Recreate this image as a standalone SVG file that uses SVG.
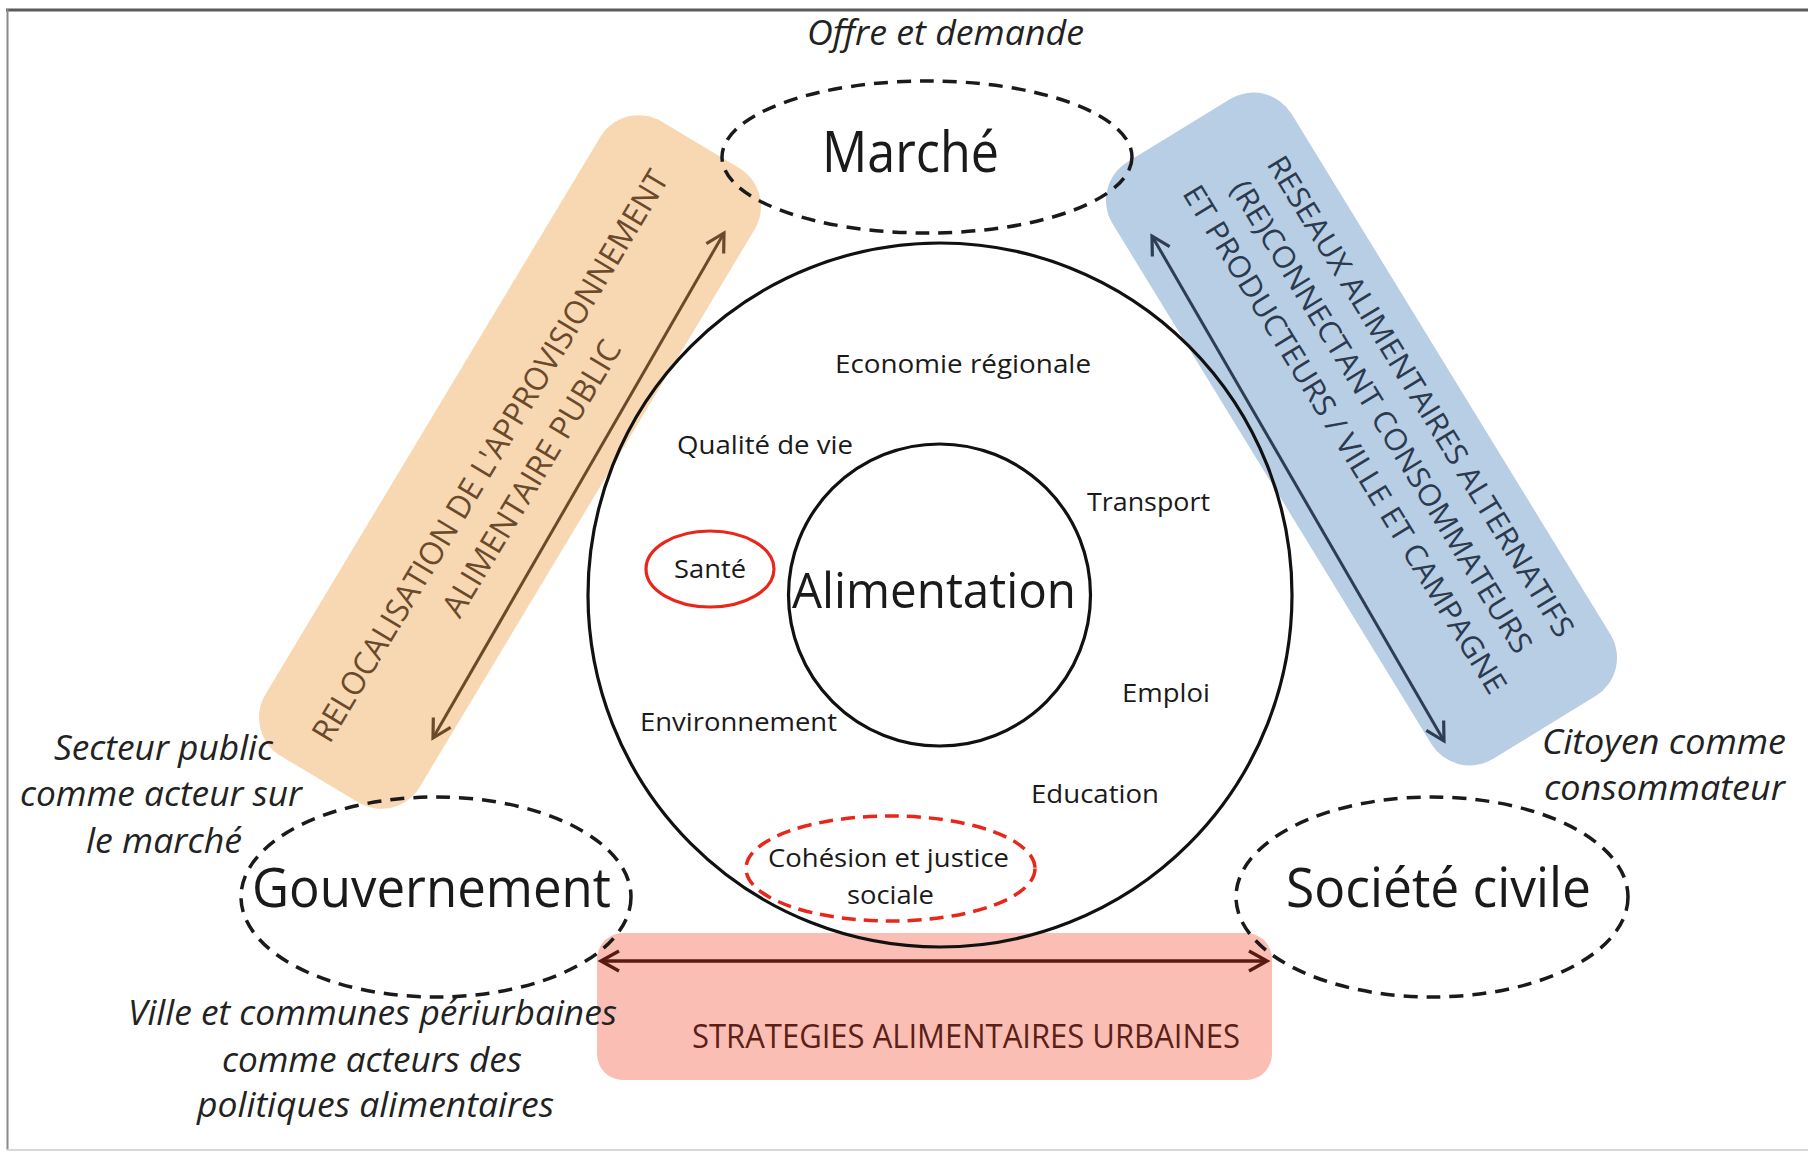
<svg xmlns="http://www.w3.org/2000/svg" width="1808" height="1152" viewBox="0 0 1808 1152">
<style>
  text { font-family: "Open Sans", "Noto Sans", "Liberation Sans", sans-serif; fill: #1a1a1a; }
  .it { font-style: italic; font-size: 34px; fill: #222; }
  .inner { font-size: 26px; }
  .big { font-size: 54px; }
  .dash { fill: none; stroke: #1a1a1a; stroke-width: 3.5; stroke-dasharray: 14 9; }
  .solid { fill: none; stroke: #111; stroke-width: 3.2; }
  .band-o { fill: #F8D8B3; }
  .band-b { fill: #B8CEE5; }
  .band-p { fill: #FABEB5; }
  .t-o { font-size: 32px; fill: #6B4A2B; }
  .t-b { font-size: 30px; fill: #2C3A4F; }
  .t-p { font-size: 32px; fill: #5C1F18; }
</style>
<defs>
  <marker id="ah-o" markerUnits="userSpaceOnUse" markerWidth="26" markerHeight="26" viewBox="0 0 26 26" refX="21" refY="13" orient="auto-start-reverse">
    <path d="M3,3 L21,13 L3,23" fill="none" stroke="#6B4A2B" stroke-width="3.2"/>
  </marker>
  <marker id="ah-b" markerUnits="userSpaceOnUse" markerWidth="26" markerHeight="26" viewBox="0 0 26 26" refX="21" refY="13" orient="auto-start-reverse">
    <path d="M3,3 L21,13 L3,23" fill="none" stroke="#2D3D52" stroke-width="3.2"/>
  </marker>
  <marker id="ah-p" markerUnits="userSpaceOnUse" markerWidth="26" markerHeight="26" viewBox="0 0 26 26" refX="21" refY="13" orient="auto-start-reverse">
    <path d="M3,3 L21,13 L3,23" fill="none" stroke="#5A1A12" stroke-width="3.4"/>
  </marker>
</defs>

<rect x="0" y="0" width="1808" height="1152" fill="#fff"/>
<g id="frame">
  <line x1="6" y1="10" x2="1808" y2="10" stroke="#5a5a5a" stroke-width="3"/>
  <line x1="7.5" y1="9" x2="7.5" y2="1150" stroke="#8a8a8a" stroke-width="2"/>
  <line x1="7" y1="1150" x2="1808" y2="1150" stroke="#d8d8d8" stroke-width="2"/>
</g>

<g id="band-relocalisation" transform="translate(510,462) rotate(-59)">
  <rect x="-370" y="-90" width="740" height="180" rx="45" class="band-o"/>
  <text class="t-o" x="-5" y="-9" text-anchor="middle" textLength="660" lengthAdjust="spacingAndGlyphs">RELOCALISATION DE L'APPROVISIONNEMENT</text>
  <text class="t-o" x="-3" y="38" text-anchor="middle" textLength="316" lengthAdjust="spacingAndGlyphs">ALIMENTAIRE PUBLIC</text>
</g>

<g id="band-reseaux" transform="translate(1361.5,429) rotate(58.5)">
  <rect x="-350" y="-105" width="700" height="210" rx="45" class="band-b"/>
  <text class="t-b" x="3" y="-57" text-anchor="middle" textLength="558" lengthAdjust="spacingAndGlyphs">RESEAUX ALIMENTAIRES ALTERNATIFS</text>
  <text class="t-b" x="0" y="-13" text-anchor="middle" textLength="548" lengthAdjust="spacingAndGlyphs">(RE)CONNECTANT CONSOMMATEURS</text>
  <text class="t-b" x="0" y="30" text-anchor="middle" textLength="590" lengthAdjust="spacingAndGlyphs">ET PRODUCTEURS / VILLE ET CAMPAGNE</text>
</g>

<g id="band-strategies">
  <rect x="597" y="933" width="675" height="147" rx="26" class="band-p"/>
  <text class="t-p" x="966" y="1048" text-anchor="middle" textLength="548" lengthAdjust="spacingAndGlyphs">STRATEGIES ALIMENTAIRES URBAINES</text>
</g>

<g id="outer-circle">
  <circle cx="940" cy="595" r="352" class="solid"/>
  <text class="inner" x="963" y="373" text-anchor="middle" textLength="256" lengthAdjust="spacingAndGlyphs">Economie régionale</text>
  <text class="inner" x="765" y="454" text-anchor="middle" textLength="176" lengthAdjust="spacingAndGlyphs">Qualité de vie</text>
  <text class="inner" x="1148.5" y="511" text-anchor="middle" textLength="123" lengthAdjust="spacingAndGlyphs">Transport</text>
  <text class="inner" x="1166" y="702" text-anchor="middle" textLength="88" lengthAdjust="spacingAndGlyphs">Emploi</text>
  <text class="inner" x="738.5" y="731" text-anchor="middle" textLength="197" lengthAdjust="spacingAndGlyphs">Environnement</text>
  <text class="inner" x="1095" y="803" text-anchor="middle" textLength="128" lengthAdjust="spacingAndGlyphs">Education</text>
</g>

<g id="sante">
  <ellipse cx="710" cy="569" rx="64" ry="38" fill="none" stroke="#E8261A" stroke-width="3.2"/>
  <text class="inner" x="710" y="578" text-anchor="middle" textLength="72" lengthAdjust="spacingAndGlyphs">Santé</text>
</g>

<g id="cohesion">
  <ellipse cx="890.5" cy="868.5" rx="144.5" ry="52.5" fill="none" stroke="#E8261A" stroke-width="3.5" stroke-dasharray="14 8"/>
  <text class="inner" x="888.5" y="867" text-anchor="middle" textLength="241" lengthAdjust="spacingAndGlyphs">Cohésion et justice</text>
  <text class="inner" x="890.5" y="904" text-anchor="middle" textLength="87" lengthAdjust="spacingAndGlyphs">sociale</text>
</g>

<g id="alimentation">
  <circle cx="939.5" cy="595" r="151" class="solid"/>
  <text x="934" y="608" font-size="50" text-anchor="middle" textLength="284" lengthAdjust="spacingAndGlyphs">Alimentation</text>
</g>

<g id="marche">
  <ellipse cx="927" cy="157" rx="205" ry="76" class="dash"/>
  <text x="910.5" y="172" font-size="56" text-anchor="middle" textLength="177" lengthAdjust="spacingAndGlyphs">Marché</text>
  <text class="it" x="945.5" y="45" font-size="31" text-anchor="middle" textLength="277" lengthAdjust="spacingAndGlyphs">Offre et demande</text>
</g>

<g id="gouvernement">
  <ellipse cx="436" cy="897" rx="195" ry="100" class="dash"/>
  <text class="big" x="431.5" y="907" text-anchor="middle" textLength="359" lengthAdjust="spacingAndGlyphs">Gouvernement</text>
  <text class="it" x="163.5" y="760" text-anchor="middle" textLength="219" lengthAdjust="spacingAndGlyphs">Secteur public</text>
  <text class="it" x="161" y="806" text-anchor="middle" textLength="282" lengthAdjust="spacingAndGlyphs">comme acteur sur</text>
  <text class="it" x="164" y="853" text-anchor="middle" textLength="156" lengthAdjust="spacingAndGlyphs">le marché</text>
  <text class="it" x="372.5" y="1025" text-anchor="middle" textLength="489" lengthAdjust="spacingAndGlyphs">Ville et communes périurbaines</text>
  <text class="it" x="372" y="1072" text-anchor="middle" textLength="300" lengthAdjust="spacingAndGlyphs">comme acteurs des</text>
  <text class="it" x="375.5" y="1117" text-anchor="middle" textLength="357" lengthAdjust="spacingAndGlyphs">politiques alimentaires</text>
</g>

<g id="societe-civile">
  <ellipse cx="1432" cy="897" rx="196" ry="100" class="dash"/>
  <text class="big" x="1438.5" y="907" text-anchor="middle" textLength="305" lengthAdjust="spacingAndGlyphs">Société civile</text>
  <text class="it" x="1664" y="754" text-anchor="middle" textLength="244" lengthAdjust="spacingAndGlyphs">Citoyen comme</text>
  <text class="it" x="1664.5" y="800" text-anchor="middle" textLength="241" lengthAdjust="spacingAndGlyphs">consommateur</text>
</g>

<g id="connectors">
  <line x1="433" y1="738" x2="724" y2="233" stroke="#6B4A2B" stroke-width="3" marker-start="url(#ah-o)" marker-end="url(#ah-o)"/>
  <line x1="1152" y1="236" x2="1444" y2="741" stroke="#2D3D52" stroke-width="3" marker-start="url(#ah-b)" marker-end="url(#ah-b)"/>
  <line x1="601" y1="961" x2="1267" y2="961" stroke="#5A1A12" stroke-width="3.4" marker-start="url(#ah-p)" marker-end="url(#ah-p)"/>
</g>
</svg>
